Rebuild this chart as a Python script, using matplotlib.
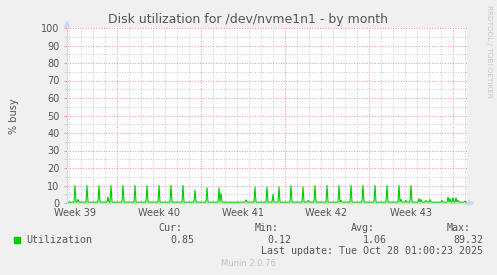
import numpy as np
import matplotlib.pyplot as plt
from matplotlib.lines import Line2D
from matplotlib.patches import Polygon, Rectangle

# data (hours from the left edge of the graph, 2 hour samples)
baseline = 0.5
spike_hours = [16, 40, 64, 88, 112, 136, 160, 184, 208, 232, 256, 280, 304,
               376, 400, 424, 448, 472, 496, 520, 544, 568, 592, 616, 640, 664, 688]
spike_peaks = [10, 10, 10, 10, 10, 10, 10, 10, 10, 10, 7.5, 8.8, 8.8,
               9.0, 9.2, 9.3, 10, 9.3, 10, 10, 10, 10, 10, 10, 10, 10, 10]
bump_hours = [22, 82, 308, 358, 412, 482, 548, 668, 678, 704, 708, 718, 726, 750,
              762, 766, 772, 778, 782, 796]
bump_vals = [2.0, 3.5, 5.5, 1.8, 5.0, 1.5, 1.5, 2.0, 1.5, 2.5, 2.0, 1.5, 2.0, 1.5,
             3.5, 2.5, 3.0, 3.0, 1.5, 1.0]

week_labels = ["Week 39", "Week 40", "Week 41", "Week 42", "Week 43"]
week_start = [99, 267, 435, 603, 771]

legend_name = "Utilization"
stats_head = ["Cur:", "Min:", "Avg:", "Max:"]
stats_vals = ["0.85", "0.12", "1.06", "89.32"]
last_update = "Last update: Tue Oct 28 01:00:23 2025"

# sampled series: read values, flat baseline elsewhere
samples = dict(zip(spike_hours, spike_peaks))
samples.update(zip(bump_hours, bump_vals))
for h in list(samples):
    for nb in (h - 2, h + 2):
        if 0 <= nb <= 800 and nb not in samples:
            samples[nb] = baseline
samples.setdefault(0, baseline)
samples.setdefault(800, baseline)
t = sorted(samples)
v = [samples[h] for h in t]

W, H = 497, 275
FG = '#555555'
AXC = '#CFD6F8'

fig = plt.figure(figsize=(W / 100, H / 100), dpi=100, facecolor='#F0F0F0')


def fx(px):
    return px / W


def fy(py):
    return 1 - py / H


ax = fig.add_axes([fx(67), fy(203), 400 / W, 175 / H])
ax.set_facecolor('white')
ax.set_xlim(0, 800)
ax.set_ylim(0, 100)
for s in ax.spines.values():
    s.set_visible(False)

ax.set_xticks(week_start)
ax.set_xticks(np.arange(3, 800, 24), minor=True)
ax.set_yticks(np.arange(0, 101, 10))
ax.set_yticks(np.arange(5, 100, 10), minor=True)
ax.grid(which='major', color='#EE9A9A', linestyle=(0, (1, 1.5)), linewidth=0.75)
ax.grid(which='minor', color='#CDCDCD', linestyle=(0, (1, 1.5)), linewidth=0.75)
ax.set_axisbelow(True)
ax.tick_params(axis='x', which='both', length=0, labelbottom=False)
ax.tick_params(axis='y', which='major', length=2, color='#EE9A9A', pad=3.3,
               labelsize=7, labelcolor=FG)
ax.tick_params(axis='y', which='minor', length=2, color='#CDCDCD')

for lab, ws in zip(week_labels, week_start):
    ax.text(ws - 84, -5.6, lab, ha='center', va='center', fontsize=7, color=FG,
            clip_on=False)

ax.plot(t, v, color='#00CC00', linewidth=0.8, zorder=3)

# axes + arrows
fig.add_artist(Line2D([fx(67), fx(67)], [fy(203), fy(22)], color=AXC, lw=0.8))
fig.add_artist(Line2D([fx(67), fx(472)], [fy(203), fy(203)], color=AXC, lw=0.8))
fig.add_artist(Polygon([[fx(64.5), fy(27)], [fx(69.5), fy(27)], [fx(67), fy(21.5)]],
                       closed=True, color=AXC, transform=fig.transFigure))
fig.add_artist(Polygon([[fx(468), fy(200.5)], [fx(468), fy(205.5)], [fx(473.5), fy(203)]],
                       closed=True, color=AXC, transform=fig.transFigure))

fig.text(fx(247.5), fy(19), "Disk utilization for /dev/nvme1n1 - by month",
         ha='center', va='center', fontsize=9, color=FG)
fig.text(fx(14), fy(116), "% busy", ha='center', va='center', rotation=90,
         fontsize=7, color=FG)
fig.text(fx(489), fy(5), "RRDTOOL / TOBI OETIKER", ha='center', va='top',
         rotation=270, fontsize=5.2, color='#C8C8C8')

# legend
mono = dict(family='DejaVu Sans Mono', fontsize=7.2, color=FG, va='center', ha='left')
fig.add_artist(Rectangle((fx(14), fy(243)), 6 / W, 6 / H, color='#00CC00',
                         transform=fig.transFigure))
fig.text(fx(26), fy(240), legend_name, **mono)
for x0, s in zip([158, 255, 351, 447], stats_head):
    fig.text(fx(x0), fy(228), s, **mono)
for x0, s in zip([170, 267, 363, 453], stats_vals):
    fig.text(fx(x0), fy(240), s, **mono)
fig.text(fx(261), fy(251), last_update, **mono)
fig.text(fx(248), fy(264), "Munin 2.0.76", ha='center', va='center', fontsize=6,
         color='#C0C0C0')

fig.savefig('out.png', dpi=100, facecolor=fig.get_facecolor())
